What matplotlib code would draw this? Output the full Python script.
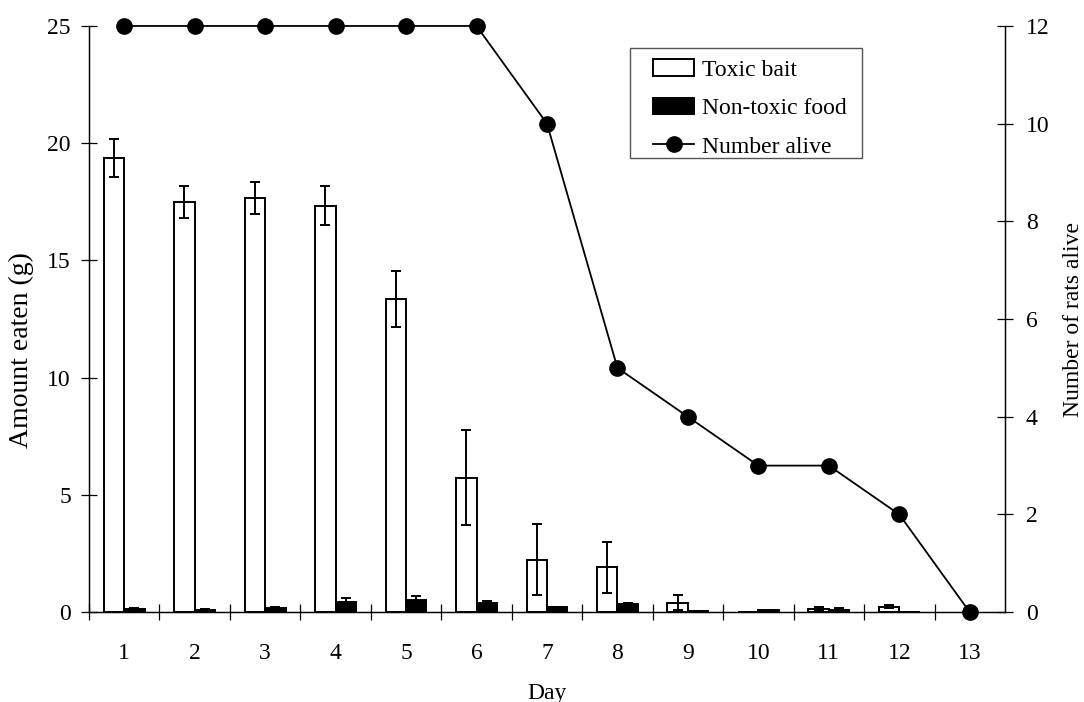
import numpy as np
import matplotlib
matplotlib.use("Agg")
import matplotlib.pyplot as plt
from matplotlib.ticker import FixedLocator
from matplotlib.patches import Rectangle

plt.rcParams['font.family'] = ['Liberation Serif', 'DejaVu Serif']

days = list(range(1, 14))
toxic_bait = [19.36, 17.5, 17.67, 17.33, 13.35, 5.73, 2.23, 1.91, 0.40, 0.02, 0.13, 0.24, 0.0]
toxic_err = [0.80, 0.67, 0.67, 0.83, 1.20, 2.03, 1.52, 1.08, 0.32, 0.0, 0.07, 0.06, 0.0]
nontoxic_food = [0.12, 0.10, 0.18, 0.45, 0.51, 0.40, 0.20, 0.33, 0.05, 0.08, 0.10, 0.02, 0.0]
nontoxic_err = [0.04, 0.03, 0.03, 0.17, 0.17, 0.06, 0.03, 0.04, 0.02, 0.03, 0.07, 0.0, 0.0]
number_alive = [12, 12, 12, 12, 12, 12, 10, 5, 4, 3, 3, 2, 0]

W, H = 1084, 702
fig = plt.figure(figsize=(W / 100, H / 100), dpi=100)
ax = fig.add_axes([0.0821, 0.128, 0.845, 0.835])
x = np.array(days, dtype=float)
w = 0.29
n = len(days)
tox_x = x[:n - 1] - w / 2
non_x = x[:n - 1] + w / 2

ax.bar(tox_x, toxic_bait[:n - 1], width=w, color='white', edgecolor='black',
       linewidth=1.4, label='Toxic bait', zorder=2)
ax.bar(non_x, nontoxic_food[:n - 1], width=w, color='black', edgecolor='black',
       linewidth=1.4, label='Non-toxic food', zorder=2)
ax.errorbar(tox_x, toxic_bait[:n - 1], yerr=toxic_err[:n - 1], fmt='none',
            ecolor='black', elinewidth=1.4, capsize=3.8, capthick=1.4, zorder=3)
ax.errorbar(non_x, nontoxic_food[:n - 1], yerr=nontoxic_err[:n - 1], fmt='none',
            ecolor='black', elinewidth=1.4, capsize=3.8, capthick=1.4, zorder=3)

ax.set_xlim(0.5, 13.5)
ax.set_ylim(0, 25)
ax.set_yticks([0, 5, 10, 15, 20, 25])
ax.set_xticks(days)
ax.xaxis.set_minor_locator(FixedLocator(np.arange(0.5, 13.0, 1.0)))
ax.tick_params(axis='x', which='major', length=0, pad=22, labelsize=17)
ax.tick_params(axis='x', which='minor', direction='inout', length=12, width=0.9)
ax.tick_params(axis='y', direction='inout', length=12, width=0.9, pad=7, labelsize=17)
ax.spines['top'].set_visible(False)
for s in ('left', 'bottom', 'right'):
    ax.spines[s].set_linewidth(0.9)
ax.set_xlabel('Day', fontsize=17, labelpad=14)
ax.set_ylabel('Amount eaten (g)', fontsize=20)
ax.yaxis.set_label_coords(-0.06, 0.447)

ax2 = ax.twinx()
ax2.plot(x, number_alive, color='black', linewidth=1.3, marker='o',
         markersize=11, label='Number alive', zorder=4, clip_on=False)
ax2.set_ylim(0, 12)
ax2.set_yticks(range(0, 13, 2))
ax2.tick_params(axis='y', direction='inout', length=12, width=0.9, pad=9, labelsize=17)
ax2.spines['top'].set_visible(False)
for s in ('left', 'bottom', 'right'):
    ax2.spines[s].set_linewidth(0.9)
ax2.set_ylabel('Number of rats alive', fontsize=17, labelpad=10)

# legend entries without frame; the frame is drawn as a separate box
h1, l1 = ax.get_legend_handles_labels()
h2, l2 = ax2.get_legend_handles_labels()
leg = ax2.legend(h1 + h2, l1 + l2, loc='upper left',
                 bbox_to_anchor=(653 / W, 1 - 59 / H), bbox_transform=fig.transFigure,
                 fontsize=17, frameon=False,
                 handlelength=1.74, handletextpad=0.34, borderpad=0,
                 labelspacing=0.72, borderaxespad=0)
box = Rectangle((630 / W, 1 - 158 / H), (862 - 630) / W, (158 - 48) / H,
                transform=fig.transFigure, facecolor='white', edgecolor='#555555',
                linewidth=1.0, zorder=5)
fig.add_artist(box)
leg.set_zorder(6)
fig.add_artist(leg)

fig.savefig('out.png', dpi=100)
